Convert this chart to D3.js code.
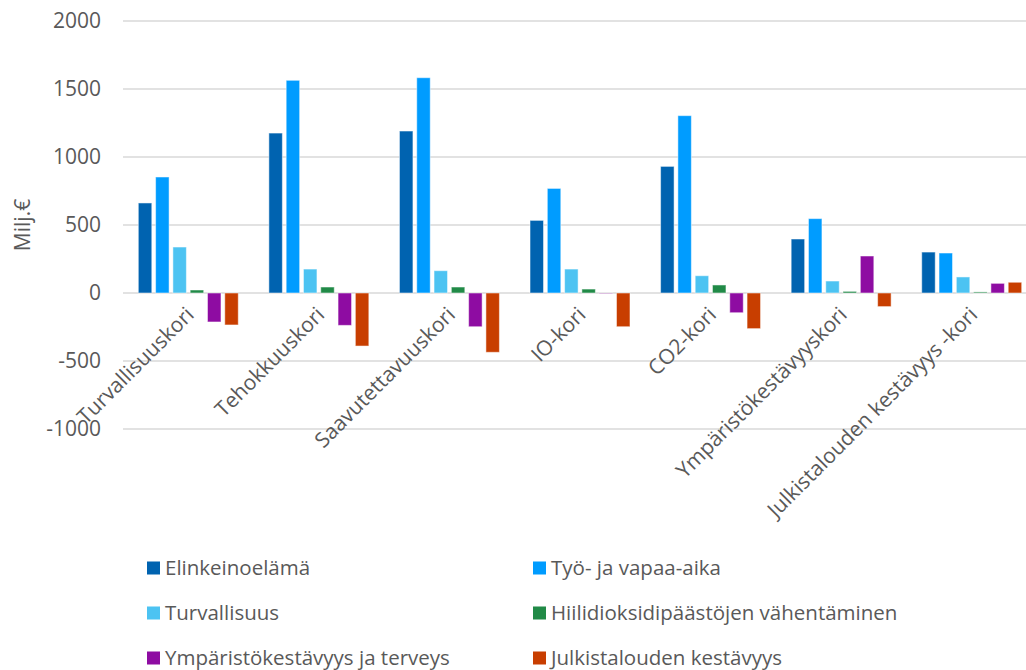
<!DOCTYPE html>
<html><head><meta charset="utf-8">
<script src="https://cdn.jsdelivr.net/npm/d3@7"></script>
<style>body{margin:0;background:#fff}svg{display:block;font-family:'Open Sans',sans-serif}</style>
</head><body><svg id="c" width="1026" height="670"></svg>
<script>
const categories = ["Turvallisuuskori","Tehokkuuskori","Saavutettavuuskori","IO-kori","CO2-kori","Ympäristökestävyyskori","Julkistalouden kestävyys -kori"];
const seriesNames = ["Elinkeinoelämä","Työ- ja vapaa-aika","Turvallisuus","Hiilidioksidipäästöjen vähentäminen","Ympäristökestävyys ja terveys","Julkistalouden kestävyys"];
const elinkeinoelama = [662,1176,1191,534,931,397,301];
const tyoVapaaAika   = [853,1564,1583,769,1304,547,294];
const turvallisuus   = [338,176,164,176,127,88,118];
const hiilidioksidi  = [22,44,44,29,59,12,8];
const ymparisto      = [-213,-238,-248,-3,-145,272,71];
const julkistalous   = [-235,-390,-436,-248,-262,-100,79];
const yTicks = [-1000,-500,0,500,1000,1500,2000];
const yTitle = "Milj.€";
const colors = ["#0063B0","#009CFF","#4CC3F2","#218A47","#8E0CA2","#C83E00"];

const series = [elinkeinoelama,tyoVapaaAika,turvallisuus,hiilidioksidi,ymparisto,julkistalous];
const svg = d3.select("#c");
const font = "'Open Sans', sans-serif";
const x0 = d3.scaleBand().domain(categories).range([123,1037]).paddingInner(0).paddingOuter(0);
const x1 = d3.scaleBand().domain(d3.range(series.length)).range([0,x0.bandwidth()]).paddingInner(0.22).paddingOuter(0.885);
const y = d3.scaleLinear().domain([-1000,2000]).range([429,21]);

// gridlines
svg.append("g").selectAll("line").data(yTicks).join("line")
  .attr("x1",123).attr("x2",1037).attr("y1",d=>y(d)).attr("y2",d=>y(d))
  .attr("stroke","#d9d9d9").attr("stroke-width",1.5);

// y axis labels
const yAxis = d3.axisLeft(y).tickValues(yTicks).tickSize(0).tickPadding(0).tickFormat(d=>String(d));
const ya = svg.append("g").attr("transform","translate(101,0)").call(yAxis);
ya.attr("font-family",font).attr("font-size",21);
ya.select(".domain").remove();
ya.selectAll("text").attr("fill","#595959");

// bars
const g = svg.append("g");
series.forEach((vals,si)=>{
  g.append("g").selectAll("rect").data(vals).join("rect")
    .attr("x",(d,i)=>x0(categories[i])+x1(si))
    .attr("width",x1.bandwidth())
    .attr("y",d=>y(Math.max(0,d)))
    .attr("height",d=>Math.abs(y(d)-y(0)))
    .attr("fill",colors[si])
    .attr("stroke","#ffffff").attr("stroke-opacity",0.5).attr("stroke-width",1);
});

// category labels
svg.append("g").selectAll("text").data(categories).join("text")
  .attr("transform",d=>`translate(${x0(d)+x0.bandwidth()/2+7},${316}) rotate(-45)`)
  .attr("text-anchor","end")
  .attr("font-family",font).attr("font-size",21).attr("fill","#595959")
  .text(d=>d);

// y title
svg.append("text").attr("transform","translate(30,225) rotate(-90)")
  .attr("text-anchor","middle").attr("font-family",font).attr("font-size",21).attr("fill","#595959")
  .text(yTitle);

// legend
const legX = [147,533], legY = [568,613,658];
const lg = svg.append("g").selectAll("g").data(seriesNames).join("g")
  .attr("transform",(d,i)=>`translate(${legX[i%2]},${legY[Math.floor(i/2)]})`);
lg.append("rect").attr("x",0).attr("y",-6.5).attr("width",13).attr("height",13).attr("fill",(d,i)=>colors[i]);
lg.append("text").attr("x",18).attr("y",0).attr("dy","0.36em")
  .attr("font-family",font).attr("font-size",20.5).attr("fill","#595959")
  .text(d=>d);
</script></body></html>
